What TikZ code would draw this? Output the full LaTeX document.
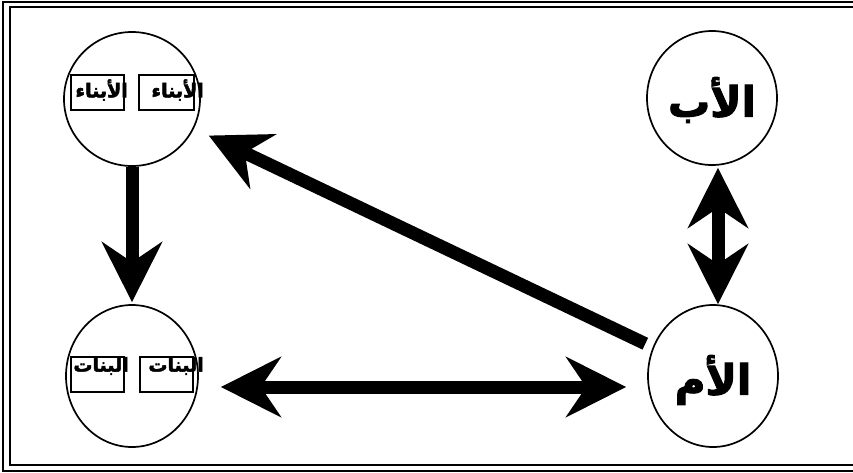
\documentclass[tikz,border=0pt]{standalone}
\usepackage{fontspec}
\usetikzlibrary{arrows.meta,shapes.geometric,calc}
\TeXXeTstate=1
\newfontfamily\arabicfont[Script=Arabic,BoldFeatures={FakeBold=2.5}]{DejaVu Sans}
\begin{document}
\begin{tikzpicture}[x=1pt,y=-1pt,
  ell/.style={draw,ellipse,line width=1.7pt,inner sep=0pt},
  bigtxt/.style={font=\arabicfont\bfseries\fontsize{42}{42}\selectfont,inner sep=0pt},
  smalltxt/.style={font=\arabicfont\bfseries\fontsize{19}{19}\selectfont,inner sep=0pt},
  lbox/.style={draw,line width=1.2pt,inner sep=0pt},
  fatarrow/.style={line width=13pt,-{Stealth[length=60pt,width=60pt,inset=20pt]}},
  fatdouble/.style={line width=13pt,{Stealth[length=60pt,width=60pt,inset=20pt]}-{Stealth[length=60pt,width=60pt,inset=20pt]}}]
\useasboundingbox (0,0) rectangle (853,472);
% border
\draw[line width=2.5pt] (3,2) rectangle (862,471);
\draw[line width=2pt] (10,6.5) rectangle (858,464.5);
% circles
\node[ell,minimum width=136pt,minimum height=134pt] (sons) at (132,99) {};
\node[ell,minimum width=132pt,minimum height=142pt] (daughters) at (132,376) {};
\node[ell,minimum width=130pt,minimum height=134pt] (father) at (712,98) {};
\node[ell,minimum width=130pt,minimum height=142pt] (mother) at (713,376) {};
% labels
\node[bigtxt] (fathertxt) at (712,100) {\beginR الأب\endR};
\node[bigtxt] (mothertxt) at (713,380) {\beginR الأم\endR};
% sons boxes
\node[lbox,minimum width=53pt,minimum height=35pt] (sb1) at (97.5,92.5) {};
\node[lbox,minimum width=55pt,minimum height=35pt] (sb2) at (166.5,92.5) {};
\node[smalltxt,anchor=east] (st1) at (128,90) {\beginR الأبناء\endR};
\node[smalltxt,anchor=east] (st2) at (204,90) {\beginR الأبناء\endR};
% daughters boxes
\node[lbox,minimum width=53pt,minimum height=35pt] (db1) at (97.5,374.5) {};
\node[lbox,minimum width=53pt,minimum height=35pt] (db2) at (166.5,374.5) {};
\node[smalltxt,anchor=east] (dt1) at (129,366) {\beginR البنات\endR};
\node[smalltxt,anchor=east] (dt2) at (204,366) {\beginR البنات\endR};
% arrows
\draw[fatarrow] (sons.south) -- ([yshift=2pt]daughters.north);
\draw[fatarrow,shorten <=75pt,shorten >=85pt] (mother.center) -- (sons.center);
\draw[fatdouble,shorten <=22pt,shorten >=21pt] ([yshift=-11pt]daughters.east) -- ([yshift=-11pt]mother.west);
\draw[fatdouble,shorten <=2pt] ([xshift=6pt]father.south) -- ([xshift=5pt]mother.north);
\end{tikzpicture}
\end{document}
